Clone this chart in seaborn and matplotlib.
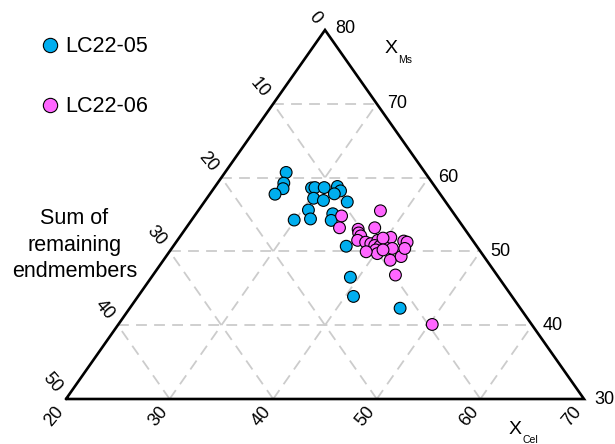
import numpy as np
import pandas as pd
import matplotlib
matplotlib.use("Agg")
import matplotlib.pyplot as plt
import seaborn as sns
from matplotlib.lines import Line2D

# ---------------- data (X_Ms, X_Cel in %) ----------------
sample_names = ["LC22-05", "LC22-06"]
ms_05 = [60.7, 59.25, 58.5, 57.75, 58.6, 58.65, 58.65, 58.8, 58.2, 57.8, 57.2,
         56.9, 56.7, 55.6, 54.4, 54.25, 55.1, 54.2, 50.7, 46.5, 43.9, 42.3]
cel_05 = [25.9, 26.4, 26.7, 26.3, 29.4, 29.7, 30.6, 31.8, 32.4, 32.0, 30.3,
          31.4, 33.8, 30.6, 31.4, 29.9, 33.2, 33.5, 36.7, 39.2, 40.8, 46.1]
ms_06 = [55.5, 54.8, 53.2, 53.2, 53.0, 52.5, 52.1, 51.5, 51.25, 51.05, 51.5,
         50.8, 50.7, 50.2, 49.7, 49.95, 51.1, 51.9, 50.4, 48.8, 49.3, 51.4,
         51.25, 50.4, 46.8, 40.1, 51.8, 50.2]
cel_06 = [37.6, 34.2, 34.8, 38.2, 36.7, 37.0, 37.4, 37.4, 38.3, 38.9, 39.35,
          39.4, 39.95, 39.8, 40.2, 39.0, 40.4, 40.4, 41.3, 41.9, 42.7, 41.9,
          42.3, 42.5, 43.4, 50.3, 39.7, 40.5]

ms_ticks = [30, 40, 50, 60, 70, 80]
cel_ticks = [20, 30, 40, 50, 60, 70]
rem_ticks = [0, 10, 20, 30, 40, 50]
colors = {"LC22-05": "#00AEEF", "LC22-06": "#FF66FF"}

MS0, CEL0, SPAN = 30.0, 20.0, 50.0


def to_xy(ms, cel):
    a = (np.asarray(ms, float) - MS0) / SPAN
    c = (np.asarray(cel, float) - CEL0) / SPAN
    return c + a / 2.0, a


x5, y5 = to_xy(ms_05, cel_05)
x6, y6 = to_xy(ms_06, cel_06)
df = pd.DataFrame({
    "X": np.concatenate([x5, x6]),
    "Y": np.concatenate([y5, y6]),
    "sample": [sample_names[0]] * len(x5) + [sample_names[1]] * len(x6),
})

sns.set_theme(style="white")
plt.rcParams["font.family"] = ["Liberation Sans", "DejaVu Sans"]
plt.rcParams["text.color"] = "black"

W, H = 615, 444
fig = plt.figure(figsize=(W / 100, H / 100), dpi=100)
ax = fig.add_axes([66 / W, 45 / H, 518 / W, 369 / H])
ax.set_xlim(0, 1)
ax.set_ylim(0, 1)
ax.axis("off")

# grid lines
gkw = dict(color="#cccccc", lw=1.3, dashes=(6, 4), zorder=1)
for v in ms_ticks[1:-1]:
    a = (v - MS0) / SPAN
    ax.plot([a / 2, 1 - a / 2], [a, a], **gkw)
for v in cel_ticks[1:-1]:
    c = (v - CEL0) / SPAN
    ax.plot([c, c + (1 - c) / 2], [0, 1 - c], **gkw)
for v in rem_ticks[1:-1]:
    r = v / SPAN
    ax.plot([1 - r, (1 - r) / 2], [0, 1 - r], **gkw)

# triangle
ax.plot([0, 1, 0.5, 0], [0, 0, 1, 0], color="black", lw=1.9,
        solid_joinstyle="miter", clip_on=False, zorder=2)

# points
sns.scatterplot(data=df, x="X", y="Y", hue="sample", palette=colors,
                s=72, edgecolor="black", linewidth=0.8, legend=False,
                ax=ax, zorder=3, clip_on=False)

fs = 13
# right axis (Ms)
for v in ms_ticks:
    a = (v - MS0) / SPAN
    off = (10, 2) if v == 80 else (10, 0)
    ax.annotate(str(v), xy=(1 - a / 2, a), xytext=off, textcoords="offset pixels",
                ha="left", va="center", fontsize=fs)
# left axis (remaining)
for v in rem_ticks:
    r = v / SPAN
    a = 1 - r
    ax.annotate(str(v), xy=(a / 2, a), xytext=(-7, 8), textcoords="offset pixels",
                ha="right", va="center", rotation=-50, rotation_mode="anchor",
                fontsize=fs)
# bottom axis (Cel)
for v in cel_ticks:
    c = (v - CEL0) / SPAN
    ax.annotate(str(v), xy=(c, 0), xytext=(-5, -10), textcoords="offset pixels",
                ha="right", va="center", rotation=50, rotation_mode="anchor",
                fontsize=fs)


def ftext(px, py, s, **kw):
    fig.text(px / W, 1 - py / H, s, **kw)


ftext(391.5, 48.5, "X", ha="center", va="center", fontsize=14)
ftext(398.5, 60, "Ms", ha="left", va="center", fontsize=7.5)
ftext(515.5, 429, "X", ha="center", va="center", fontsize=14)
ftext(522.5, 440, "Cel", ha="left", va="center", fontsize=7.5)
ftext(74.5, 245, "Sum of\nremaining\nendmembers", ha="center", va="center",
      fontsize=15.5, linespacing=1.32)

handles = [Line2D([], [], ls="", marker="o", markersize=10.3,
                  markerfacecolor=colors[n], markeredgecolor="black",
                  markeredgewidth=0.8) for n in sample_names]
fig.legend(handles, sample_names, loc="upper left",
           bbox_to_anchor=(30.6 / W, 1 - 27.8 / H), frameon=False,
           fontsize=15.5, labelspacing=1.8, handletextpad=0.2,
           handlelength=1.0, borderaxespad=0)

fig.savefig("out.png", dpi=100)
